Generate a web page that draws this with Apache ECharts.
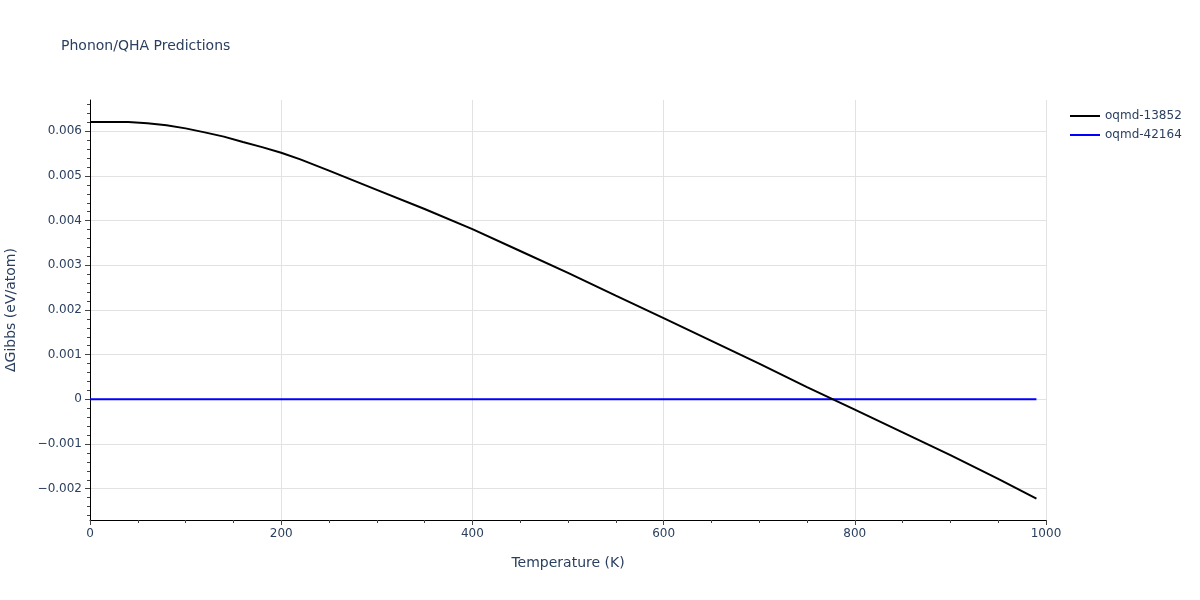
<!DOCTYPE html>
<html>
<head>
<meta charset="utf-8">
<script src="https://cdn.jsdelivr.net/npm/echarts@6/dist/echarts.min.js"></script>
<style>
html,body{margin:0;padding:0;background:#fff;}
#chart{width:1200px;height:600px;}
</style>
</head>
<body>
<div id="chart"></div>
<script>
// Data
var temperatures = [0,20,40,60,80,100,120,140,160,180,200,220,250,300,350,400,450,500,550,600,650,700,750,800,850,900,950,990];
var gibbs13852 = [0.00621,0.00621,0.006205,0.00618,0.006135,0.006065,0.005975,0.00588,0.00576,0.005645,0.00552,0.00537,0.00512,0.00469,0.00426,0.00381,0.00332,0.00283,0.00232,0.00182,0.00131,0.0008,0.000275,-0.00023,-0.00074,-0.00125,-0.00178,-0.00222];
var gibbs42164 = [0,0,0,0,0,0,0,0,0,0,0,0,0,0,0,0,0,0,0,0,0,0,0,0,0,0,0,0];
var seriesNames = ['oqmd-13852','oqmd-42164'];
var yMajorTicks = [-0.002,-0.001,0,0.001,0.002,0.003,0.004,0.005,0.006];
var yMinorTicks = [-0.0026,-0.0024,-0.0022,-0.0018,-0.0016,-0.0014,-0.0012,-0.0008,-0.0006,-0.0004,-0.0002,0.0002,0.0004,0.0006,0.0008,0.0012,0.0014,0.0016,0.0018,0.0022,0.0024,0.0026,0.0028,0.0032,0.0034,0.0036,0.0038,0.0042,0.0044,0.0046,0.0048,0.0052,0.0054,0.0056,0.0058,0.0062,0.0064,0.0066];

var FONT = 'Verdana, "DejaVu Sans", sans-serif';
var TXT = '#2a3f5f';

function zip(xs, ys){ return xs.map(function(x,i){ return [x, ys[i]]; }); }
function fmtY(v){
  if (Math.abs(v) < 1e-12) return '0';
  var s = Math.abs(v).toFixed(3);
  return (v < 0 ? '\u2212' : '') + s;
}

var chart = echarts.init(document.getElementById('chart'), null, {renderer:'canvas'});
chart.setOption({
  animation:false,
  backgroundColor:'#ffffff',
  title:{
    text:'Phonon/QHA Predictions',
    left:56, top:34,
    textStyle:{fontFamily:FONT, fontSize:14, fontWeight:'normal', color:TXT}
  },
  legend:{
    left:1065, top:105,
    orient:'vertical',
    itemWidth:30, itemHeight:2, itemGap:7,
    icon:'rect',
    textStyle:{fontFamily:FONT, fontSize:12, color:TXT, padding:[0,0,0,0]},
    data:seriesNames
  },
  grid:{left:90, right:154, top:100, bottom:80, containLabel:false, outerBoundsMode:'none'},
  xAxis:{
    type:'value', min:0, max:1000, interval:200,
    name:'Temperature (K)', nameLocation:'middle', nameGap:36,
    nameTextStyle:{fontFamily:FONT, fontSize:14, color:TXT},
    axisLine:{show:true, onZero:false, lineStyle:{color:'#000', width:1}},
    axisTick:{show:true, length:5, lineStyle:{color:'#444'}},
    minorTick:{show:true, splitNumber:4, length:3, lineStyle:{color:'#444'}},
    axisLabel:{fontFamily:FONT, fontSize:12, color:TXT, margin:8, formatter:function(v){return String(v);}},
    splitLine:{show:true, lineStyle:{color:'#e2e2e2', width:1}}
  },
  yAxis:[{
    type:'value', min:-0.0027, max:0.0067,
    name:'\u0394Gibbs (eV/atom)', nameLocation:'middle', nameGap:72,
    nameTextStyle:{fontFamily:FONT, fontSize:14, color:TXT},
    axisLine:{show:true, onZero:false, lineStyle:{color:'#000', width:1}},
    axisTick:{show:true, length:5, customValues:yMajorTicks, lineStyle:{color:'#444'}},
    axisLabel:{fontFamily:FONT, fontSize:12, color:TXT, margin:8, customValues:yMajorTicks, formatter:fmtY},
    splitLine:{show:true, lineStyle:{color:'#e2e2e2', width:1}}
  },{
    type:'value', min:-0.0027, max:0.0067, position:'left',
    axisLine:{show:false},
    axisTick:{show:true, length:3, customValues:yMinorTicks, lineStyle:{color:'#444'}},
    axisLabel:{show:false},
    splitLine:{show:false}
  }],
  series:[{
    name:seriesNames[0], type:'line', data:zip(temperatures, gibbs13852),
    showSymbol:false, symbol:'none', smooth:false,
    lineStyle:{color:'#000000', width:2}, itemStyle:{color:'#000000'}, z:3
  },{
    name:seriesNames[1], type:'line', data:zip(temperatures, gibbs42164),
    showSymbol:false, symbol:'none',
    lineStyle:{color:'#0000ff', width:2}, itemStyle:{color:'#0000ff'}, z:2
  }]
});
</script>
</body>
</html>
